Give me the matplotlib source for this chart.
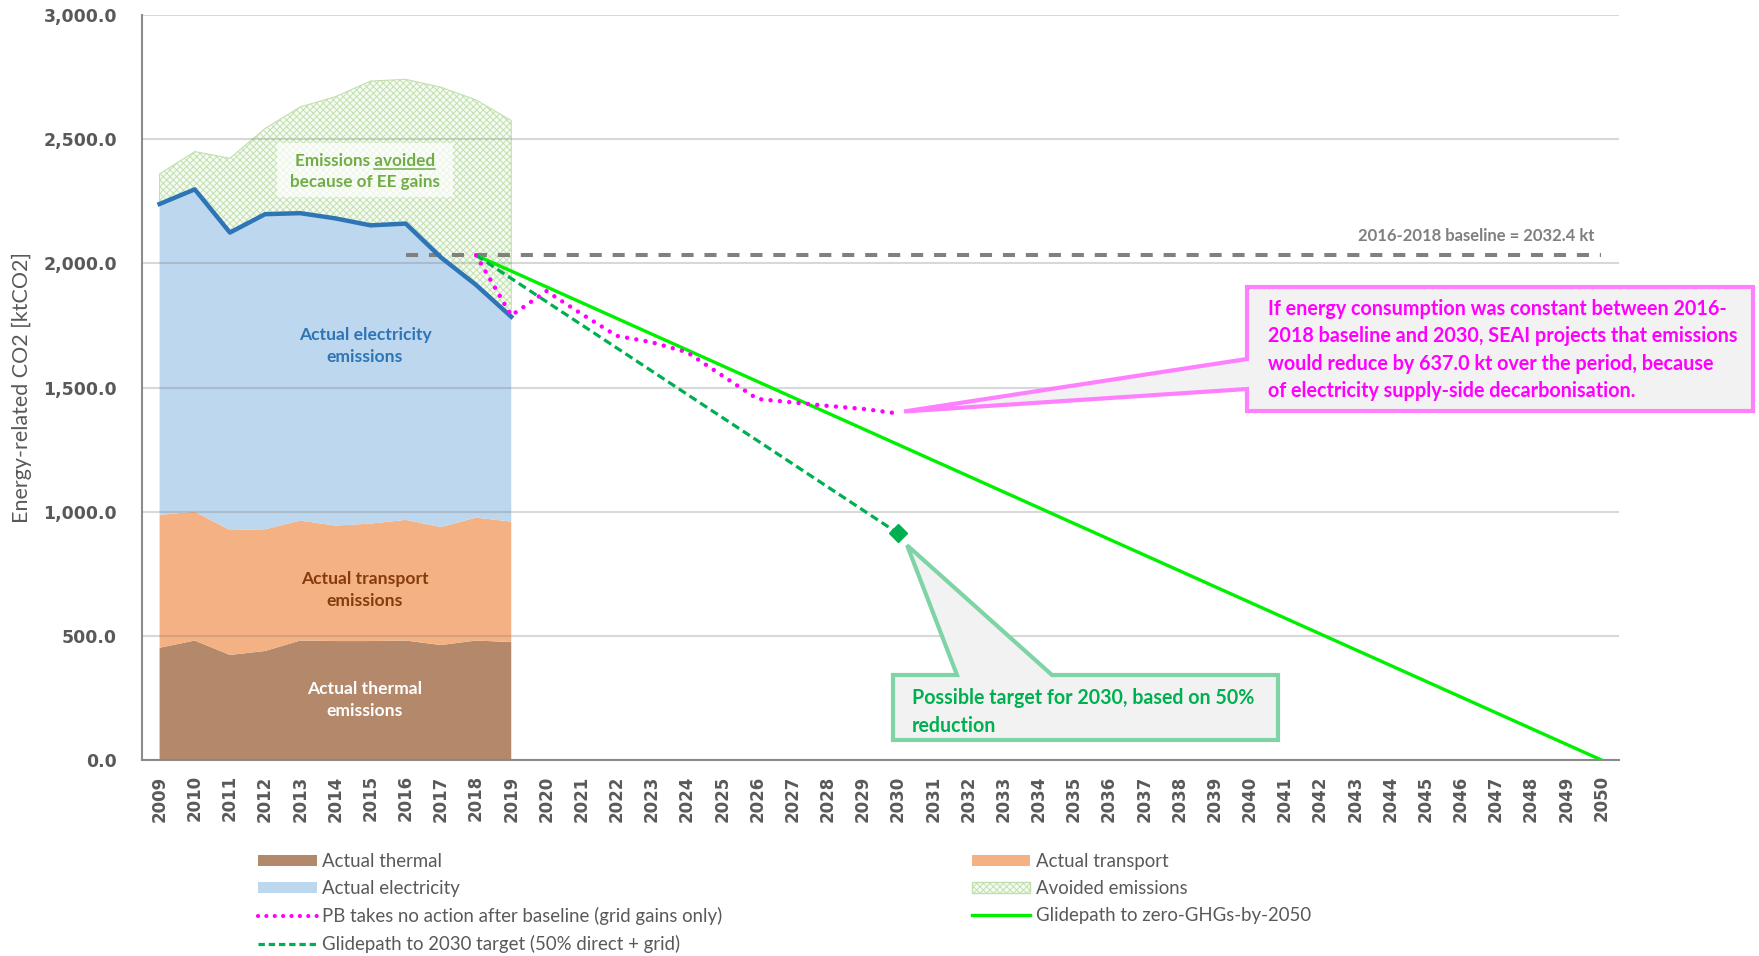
import matplotlib

matplotlib.use("Agg")
import matplotlib.pyplot as plt
from matplotlib.lines import Line2D
from matplotlib.patches import Patch, Polygon, Rectangle
import numpy as np

# ---- data (ktCO2) -------------------------------------------------------
YEARS = [2009, 2010, 2011, 2012, 2013, 2014, 2015, 2016, 2017, 2018, 2019]
THERMAL = [452, 481, 423, 439, 481, 479, 479, 481, 463, 481, 475]
TRANSPORT = [535, 519, 503, 490, 483, 465, 473, 486, 475, 495, 485]
ELECTRICITY = [1252, 1298, 1198, 1269, 1238, 1237, 1201, 1193, 1086, 937, 825]
AVOIDED = [121, 152, 299, 345, 428, 490, 581, 581, 685, 745, 790]

BASELINE = 2032.4
BASELINE_YEARS = [2016, 2050]

NO_ACTION_YEARS = [2018, 2019, 2020, 2021, 2022, 2023, 2024, 2025, 2026,
                   2027, 2028, 2029, 2030]
NO_ACTION = [2032.4, 1790, 1888, 1796, 1708, 1682, 1642, 1548, 1454,
             1440, 1426, 1414, 1395.4]

TARGET_YEARS = [2018, 2030]
TARGET_PATH = [2032.4, 913.0]

ZERO_YEARS = [2018, 2050]
ZERO_PATH = [2032.4, 0.0]

AXIS_YEARS = list(range(2009, 2051))
Y_TICKS = [0, 500, 1000, 1500, 2000, 2500, 3000]

# ---- palette --------------------------------------------------------------
C_THERMAL = "#b4896b"
C_TRANSPORT = "#f4b183"
C_ELEC = "#bdd7ee"
C_ELEC_LINE = "#2e75b6"
C_AVOID_FACE = "#f6fbf3"
C_AVOID_EDGE = "#c2e0ae"
C_PINK = "#ff00ff"
C_LIME = "#00f000"
C_DKGREEN = "#00b050"
C_GREY = "#808080"
C_TEXT = "#595959"

W, H = 1759, 956

plt.rcParams["font.family"] = ["Lato", "DejaVu Sans"]
plt.rcParams["hatch.linewidth"] = 0.7


def fx(px):
    return px / W


def fy(py):
    return 1 - py / H


fig = plt.figure(figsize=(W / 100, H / 100), dpi=100)
fig.set_facecolor("white")
ax = fig.add_axes([fx(142), fy(760), (1619 - 142) / W, (760 - 15) / H])

# stacked actuals
ax.stackplot(YEARS, THERMAL, TRANSPORT, ELECTRICITY,
             colors=[C_THERMAL, C_TRANSPORT, C_ELEC], linewidth=0, zorder=1)
total = np.array(THERMAL) + np.array(TRANSPORT) + np.array(ELECTRICITY)
ax.fill_between(YEARS, total, total + np.array(AVOIDED), facecolor=C_AVOID_FACE,
                edgecolor=C_AVOID_EDGE, hatch="xxxxx", linewidth=0.8, zorder=1)
ax.plot(YEARS, total, color=C_ELEC_LINE, linewidth=3.2, solid_joinstyle="round", zorder=4)

# baseline and pathways
ax.plot(BASELINE_YEARS, [BASELINE, BASELINE], color=C_GREY, linewidth=2.9,
        dashes=(3, 2.7), zorder=3)
ax.plot(ZERO_YEARS, ZERO_PATH, color=C_LIME, linewidth=2.4, zorder=5)
ax.plot(TARGET_YEARS, TARGET_PATH, color=C_DKGREEN, linewidth=2.3,
        dashes=(2.6, 1.4), zorder=5)
ax.plot(TARGET_YEARS[-1], TARGET_PATH[-1], marker="D", markersize=9,
        color=C_DKGREEN, zorder=6)
ax.plot(NO_ACTION_YEARS, NO_ACTION, color=C_PINK, linewidth=3.2,
        dashes=(0.01, 2.1), dash_capstyle="round", zorder=6)

# axes styling
ax.set_xlim(2008.5, 2050.5)
ax.set_ylim(0, 3000)
ax.set_xticks(AXIS_YEARS)
ax.set_xticklabels([str(y) for y in AXIS_YEARS], rotation=90,
                   family="DejaVu Sans", fontweight="bold", fontsize=12, color=C_TEXT)
ax.set_yticks(Y_TICKS)
ax.set_yticklabels([f"{v:,.1f}" for v in Y_TICKS], family="DejaVu Sans",
                   fontweight="bold", fontsize=12.5, color=C_TEXT)
ax.tick_params(axis="both", length=0)
ax.tick_params(axis="y", pad=18)
ax.tick_params(axis="x", pad=11)
ax.yaxis.grid(True, color="#808080", alpha=0.3, linewidth=1.5)
ax.set_axisbelow(False)
for side in ("top", "right"):
    ax.spines[side].set_visible(False)
for side in ("left", "bottom"):
    ax.spines[side].set_color("#8c8c8c")
    ax.spines[side].set_linewidth(1.5)
ax.set_ylabel("Energy-related CO2 [ktCO2]", fontsize=15.5, color=C_TEXT, labelpad=8)

# in-area labels
LABEL_FS = 12.6
fig.add_artist(Rectangle((fx(277), fy(197)), (453 - 277) / W, (197 - 143) / H,
                         transform=fig.transFigure, facecolor="white",
                         alpha=0.7, edgecolor="none", zorder=3))
t1 = fig.text(fx(365), fy(166), "Emissions avoided", ha="center", va="baseline",
              fontsize=12.3, fontweight="bold", color="#70ad47", zorder=4)
fig.text(fx(365), fy(187.5), "because of EE gains", ha="center", va="baseline",
         fontsize=12.3, fontweight="bold", color="#70ad47", zorder=4)

fig.text(fx(365), fy(346), "Actual electricity\nemissions", ha="center", va="center",
         fontsize=LABEL_FS, fontweight="bold", color="#2e75b6", linespacing=1.42)
fig.text(fx(365), fy(590), "Actual transport\nemissions", ha="center", va="center",
         fontsize=LABEL_FS, fontweight="bold", color="#843c0c", linespacing=1.42)
fig.text(fx(365), fy(700), "Actual thermal\nemissions", ha="center", va="center",
         fontsize=LABEL_FS, fontweight="bold", color="white", linespacing=1.42)

ax.text(BASELINE_YEARS[-1] - 0.2, BASELINE + 45, f"2016-2018 baseline = {BASELINE} kt",
        ha="right", va="bottom", fontsize=12, fontweight="bold", color="#7f7f7f")

# underline "avoided"
fig.canvas.draw()
renderer = fig.canvas.get_renderer()
bb = t1.get_window_extent(renderer)
probe = fig.text(0, 0, "avoided", fontsize=12.3, fontweight="bold")
w_av = probe.get_window_extent(renderer).width
probe.remove()
base_y = fy(166) * H
fig.add_artist(Line2D([(bb.x1 - w_av) / W, bb.x1 / W], [(base_y - 2.5) / H] * 2,
                      transform=fig.transFigure, color="#70ad47", linewidth=1.1, zorder=4))


def callout(verts_px, tip_xy, face, edge):
    """Polygon in figure pixels (y down) with a pointer tip given in display px."""
    pts = []
    for v in verts_px:
        if v is None:
            pts.append((tip_xy[0] / W, tip_xy[1] / H))
        else:
            pts.append((fx(v[0]), fy(v[1])))
    fig.add_artist(Polygon(pts, closed=True, transform=fig.transFigure,
                           facecolor=face, edgecolor=edge, linewidth=3,
                           joinstyle="miter", zorder=7))


tip_pink = ax.transData.transform((NO_ACTION_YEARS[-1], NO_ACTION[-1])) + np.array([6, 2])
callout([(1247, 287), (1753, 287), (1753, 411), (1247, 411), (1247, 389), None, (1247, 359)],
        tip_pink, "#f2f2f2", "#ff80ff")
fig.text(fx(1268), fy(350),
         "If energy consumption was constant between 2016-\n"
         "2018 baseline and 2030, SEAI projects that emissions\n"
         "would reduce by 637.0 kt over the period, because\n"
         "of electricity supply-side decarbonisation.",
         ha="left", va="center", fontsize=14.2, fontweight="bold", color=C_PINK,
         linespacing=1.47, zorder=8)

tip_green = ax.transData.transform((TARGET_YEARS[-1], TARGET_PATH[-1])) + np.array([9, -12])
callout([(893, 675), (957, 675), None, (1052, 675), (1278, 675), (1278, 740), (893, 740)],
        tip_green, "#f2f2f2", "#7fd4a5")
fig.text(fx(912), fy(712), "Possible target for 2030, based on 50%\nreduction",
         ha="left", va="center", fontsize=14.1, fontweight="bold", color=C_DKGREEN,
         linespacing=1.44, zorder=8)

# legend
handles = [
    Patch(facecolor=C_THERMAL, edgecolor="none"),
    Patch(facecolor=C_ELEC, edgecolor="none"),
    Line2D([], [], color=C_PINK, linewidth=3, dashes=(0.01, 2.0), dash_capstyle="round"),
    Line2D([], [], color=C_DKGREEN, linewidth=2.3, dashes=(2.0, 1.2)),
    Patch(facecolor=C_TRANSPORT, edgecolor="none"),
    Patch(facecolor=C_AVOID_FACE, edgecolor=C_AVOID_EDGE, hatch="xxxxx"),
    Line2D([], [], color=C_LIME, linewidth=2.4),
]
labels = [
    "Actual thermal",
    "Actual electricity",
    "PB takes no action after baseline (grid gains only)",
    "Glidepath to 2030 target (50% direct + grid)",
    "Actual transport",
    "Avoided emissions",
    "Glidepath to zero-GHGs-by-2050",
]
fig.legend(handles, labels, loc="upper left", bbox_to_anchor=(fx(258), fy(853)),
           ncol=2, frameon=False, fontsize=13.4, labelcolor=C_TEXT,
           handlelength=3.15, handleheight=0.6, handletextpad=0.3,
           columnspacing=13.4, labelspacing=0.54, borderaxespad=0, borderpad=0)

fig.savefig("out.png", dpi=100, facecolor="white")
